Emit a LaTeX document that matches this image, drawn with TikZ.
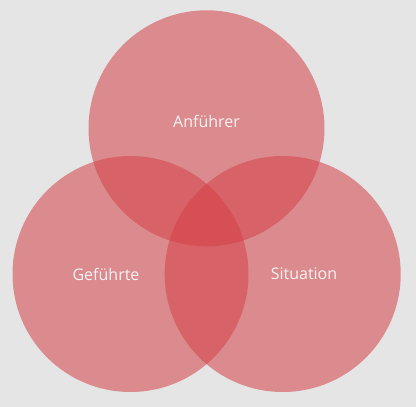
\documentclass[tikz,border=0pt]{standalone}
\usepackage{fontspec}
\setmainfont{Open Sans}
\definecolor{bg}{HTML}{E5E5E5}
\definecolor{venn}{RGB}{212,64,70}
\definecolor{lbl}{HTML}{F8F2F2}
\begin{document}
\begin{tikzpicture}[x=1pt,y=-1pt,
  setcircle/.style={circle,fill=venn,fill opacity=0.54,draw=none,minimum size=236pt,inner sep=0pt},
  lab/.style={text=lbl,font=\fontsize{16}{18}\selectfont}]
\fill[bg] (0,0) rectangle (416,407);
\useasboundingbox (0,0) rectangle (416,407);
\node[setcircle] (top) at (206.5,128.3) {};
\node[setcircle] (left) at (130.5,274) {};
\node[setcircle] (right) at (282.7,274) {};
\node[lab] (tA) at (206.5,121) {Anführer};
\node[lab] (tG) at (106,274) {Geführte};
\node[lab] (tS) at (304,274) {Situation};
\end{tikzpicture}
\end{document}
